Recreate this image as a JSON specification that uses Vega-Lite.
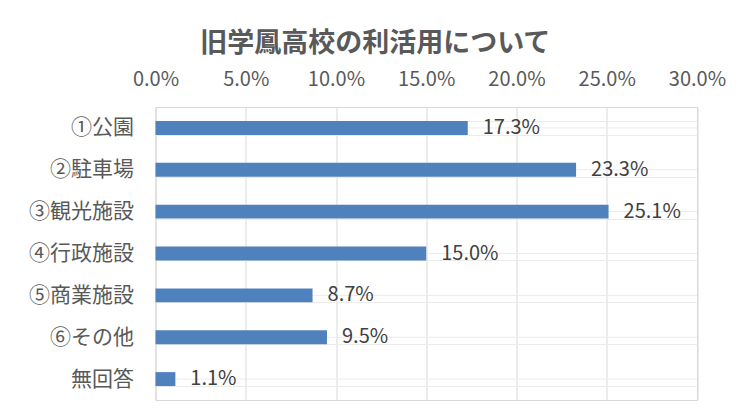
{
  "$schema": "https://vega.github.io/schema/vega-lite/v6.json",
  "autosize": "none",
  "width": 541.5,
  "height": 293,
  "padding": {"left": 155.5, "top": 107, "right": 50, "bottom": 9},
  "background": "white",
  "config": {
    "font": "Noto Sans CJK JP",
    "view": {"stroke": "#d9d9d9", "strokeWidth": 1}
  },
  "title": {
    "text": "旧学鳳高校の利活用について",
    "fontSize": 27,
    "fontWeight": "bold",
    "color": "#595959",
    "dx": -51,
    "offset": 11
  },
  "data": {
    "values": [
      {"category": "①公園", "value": 0.173},
      {"category": "②駐車場", "value": 0.233},
      {"category": "③観光施設", "value": 0.251},
      {"category": "④行政施設", "value": 0.150},
      {"category": "⑤商業施設", "value": 0.087},
      {"category": "⑥その他", "value": 0.095},
      {"category": "無回答", "value": 0.011}
    ]
  },
  "encoding": {
    "y": {
      "field": "category",
      "type": "nominal",
      "sort": null,
      "scale": {"paddingInner": 0.667, "paddingOuter": 0.333},
      "axis": {
        "title": null,
        "tickBand": "extent",
        "grid": true,
        "gridColor": "#ebebeb",
        "gridWidth": 1,
        "domain": false,
        "ticks": false,
        "labelFontSize": 21,
        "labelColor": "#595959",
        "labelPadding": 22
      }
    }
  },
  "layer": [
    {
      "mark": {"type": "rule", "color": "#ebebeb", "strokeWidth": 1},
      "encoding": {}
    },
    {
      "mark": {"type": "bar", "color": "#4f81bd"},
      "encoding": {
        "x": {
          "field": "value",
          "type": "quantitative",
          "scale": {"domain": [0, 0.3], "nice": false},
          "axis": {
            "orient": "top",
            "format": ".1%",
            "values": [0, 0.05, 0.1, 0.15, 0.2, 0.25, 0.3],
            "title": null,
            "grid": true,
            "gridColor": "#d9d9d9",
            "domain": false,
            "ticks": false,
            "labelFontSize": 20,
            "labelColor": "#595959",
            "labelPadding": 18,
            "labelFlush": false
          }
        }
      }
    },
    {
      "mark": {"type": "text", "align": "left", "dx": 15, "fontSize": 20, "color": "#404040", "baseline": "middle"},
      "encoding": {
        "x": {"field": "value", "type": "quantitative"},
        "text": {"field": "value", "type": "quantitative", "format": ".1%"}
      }
    }
  ]
}
